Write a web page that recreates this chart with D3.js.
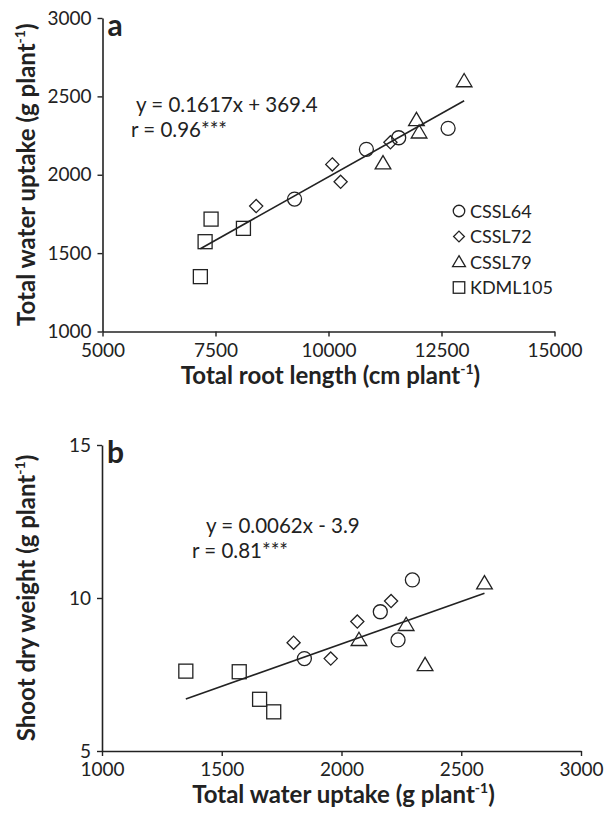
<!DOCTYPE html>
<html><head><meta charset="utf-8">
<script src="https://cdn.jsdelivr.net/npm/d3@7"></script>
<style>
body{margin:0;background:#fff;}
text{font-family:Lato,sans-serif;fill:#222;}
</style></head>
<body><svg id="c" width="612" height="818"></svg>
<script>
// ---- data ----
const genotypes = ["CSSL64", "CSSL72", "CSSL79", "KDML105"];
const shapes = ["circle", "diamond", "triangle", "square"];
const rootLength = {
  CSSL64: [9249, 10838, 11553, 12646],
  CSSL72: [8400, 10084, 10268, 11370],
  CSSL79: [13001, 11946, 12004, 11206],
  KDML105: [7402, 8118, 7270, 7165]
};
const waterUptake = {
  CSSL64: [1845, 2162, 2236, 2296],
  CSSL72: [1800, 2066, 1955, 2207],
  CSSL79: [2597, 2349, 2270, 2073],
  KDML105: [1717, 1658, 1573, 1350]
};
const shootDW = {
  CSSL64: [8.02, 9.55, 8.63, 10.59],
  CSSL72: [8.54, 9.23, 8.02, 9.90],
  CSSL79: [10.48, 7.81, 9.12, 8.63],
  KDML105: [6.28, 6.69, 7.59, 7.61]
};
const fitA = [0.1617, 369.4];      // slope, intercept
const fitB = [0.00277, 2.96];      // drawn trend line
const xTicksA = [5000, 7500, 10000, 12500, 15000];
const yTicksA = [1000, 1500, 2000, 2500, 3000];
const xTicksB = [1000, 1500, 2000, 2500, 3000];
const yTicksB = [5, 10, 15];
const eqA = ["y = 0.1617x + 369.4", "r = 0.96***"];
const eqB = ["y = 0.0062x - 3.9", "r = 0.81***"];

const svg = d3.select("#c");
const ink = "#222";

function marker(g, shape, x, y, s) {
  let p;
  if (shape === "circle") p = g.append("circle").attr("cx", x).attr("cy", y).attr("r", s * 0.5);
  else if (shape === "square") p = g.append("rect").attr("x", x - s / 2).attr("y", y - s / 2).attr("width", s).attr("height", s);
  else if (shape === "diamond") { const d = s * 0.47; p = g.append("path").attr("d", `M${x},${y-d}L${x+d},${y}L${x},${y+d}L${x-d},${y}Z`); }
  else { const w = s * 0.56, h = s * 0.95; p = g.append("path").attr("d", `M${x},${y-h*0.58}L${x+w},${y+h*0.42}L${x-w},${y+h*0.42}Z`); }
  p.attr("fill", "none").attr("stroke", ink).attr("stroke-width", 1.3);
}

function panel(opts) {
  const g = svg.append("g");
  const x = d3.scaleLinear().domain(opts.xd).range(opts.xr);
  const y = d3.scaleLinear().domain(opts.yd).range(opts.yr);
  const ax = g.append("g").attr("transform", `translate(0,${opts.yr[0]})`)
    .call(d3.axisBottom(x).tickValues(opts.xt).tickFormat(d3.format("d")).tickSize(5).tickSizeOuter(0).tickPadding(7));
  const ay = g.append("g").attr("transform", `translate(${opts.xr[0]},0)`)
    .call(d3.axisLeft(y).tickValues(opts.yt).tickFormat(d3.format("d")).tickSize(5).tickSizeOuter(0).tickPadding(6));
  [ax, ay].forEach(a => {
    a.attr("font-family", null).attr("font-size", null);
    a.select(".domain").attr("stroke", ink).attr("stroke-width", 1.6);
    a.selectAll(".tick line").attr("stroke", ink).attr("stroke-width", 1.4);
    a.selectAll(".tick text").attr("font-size", 19).attr("fill", ink);
  });
  const allX = [];
  genotypes.forEach(k => opts.xs[k].forEach(v => allX.push(v)));
  const x0 = d3.min(allX), x1 = d3.max(allX);
  g.append("line").attr("x1", x(x0)).attr("y1", y(opts.fit[0] * x0 + opts.fit[1]))
    .attr("x2", x(x1)).attr("y2", y(opts.fit[0] * x1 + opts.fit[1]))
    .attr("stroke", ink).attr("stroke-width", 1.6);
  genotypes.forEach((k, gi) => {
    opts.xs[k].forEach((v, i) => marker(g, shapes[gi], x(v), y(opts.ys[k][i]), 14));
  });
  g.append("text").attr("x", opts.eq[0]).attr("y", opts.eq[1]).attr("font-size", 20.5).text(opts.eqText[0]);
  g.append("text").attr("x", opts.eq[2]).attr("y", opts.eq[3]).attr("font-size", 20.5).text(opts.eqText[1]);
  g.append("text").attr("x", opts.xr[0] + 5).attr("y", opts.yr[1] + 18).attr("font-size", 30)
    .attr("font-weight", "bold").text(opts.letter);
  const xt = g.append("text").attr("x", (opts.xr[0] + opts.xr[1]) / 2 + 2).attr("y", opts.yr[0] + 52)
    .attr("text-anchor", "middle").attr("font-size", 24).attr("font-weight", "bold");
  xt.append("tspan").text(opts.xTitle);
  xt.append("tspan").attr("font-size", 14).attr("dy", -10).text("-1");
  xt.append("tspan").attr("dy", 10).text(")");
  const yt = g.append("text").attr("transform", `translate(${opts.yTitleX},${(opts.yr[0] + opts.yr[1]) / 2}) rotate(-90)`)
    .attr("text-anchor", "middle").attr("font-size", 24).attr("font-weight", "bold");
  yt.append("tspan").text(opts.yTitle);
  yt.append("tspan").attr("font-size", 14).attr("dy", -10).text("-1");
  yt.append("tspan").attr("dy", 10).text(")");
  return {x, y, g};
}

panel({
  xd: [5000, 15000], xr: [102.5, 554.5], yd: [1000, 3000], yr: [331.5, 18],
  xt: xTicksA, yt: yTicksA, xs: rootLength, ys: waterUptake, fit: fitA,
  eq: [136, 112, 131, 137], eqText: eqA, letter: "a",
  xTitle: "Total root length (cm plant", yTitle: "Total water uptake (g plant", yTitleX: 35
});
panel({
  xd: [1000, 3000], xr: [102, 581], yd: [5, 15], yr: [751, 445],
  xt: xTicksB, yt: yTicksB, xs: waterUptake, ys: shootDW, fit: fitB,
  eq: [206, 533, 192, 558], eqText: eqB, letter: "b",
  xTitle: "Total water uptake (g plant", yTitle: "Shoot dry weight (g plant", yTitleX: 35
});

// legend (panel a)
const lg = svg.append("g");
genotypes.forEach((k, i) => {
  const cy = 211 + i * 25.5;
  marker(lg, shapes[i], 459, cy, 11.5);
  lg.append("text").attr("x", 470).attr("y", cy + 6.5).attr("font-size", 18).text(k);
});
</script></body></html>
